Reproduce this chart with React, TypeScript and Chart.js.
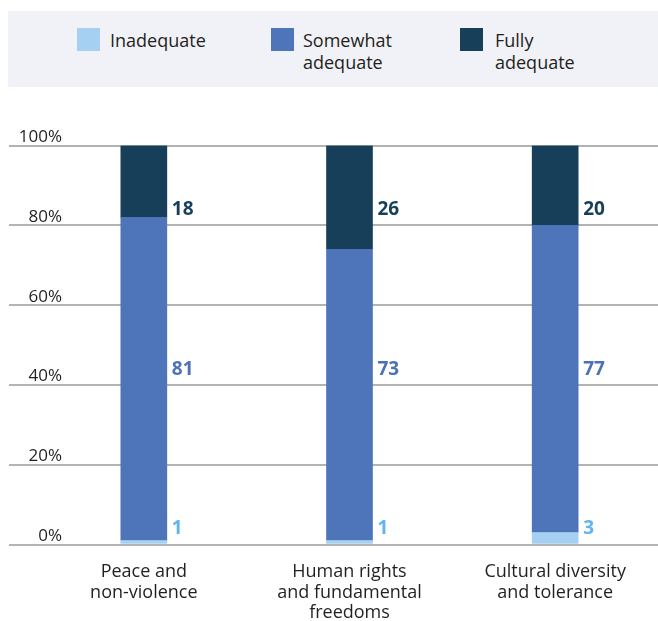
import React, { useEffect, useRef } from "react";
import { Chart, registerables } from "chart.js";

Chart.register(...registerables);

const categories: string[][] = [
  ["Peace and", "non-violence"],
  ["Human rights", "and fundamental", "freedoms"],
  ["Cultural diversity", "and tolerance"],
];
const seriesNames = ["Inadequate", "Somewhat adequate", "Fully adequate"];
const legendLines: string[][] = [["Inadequate"], ["Somewhat", "adequate"], ["Fully", "adequate"]];
const inadequate = [1, 1, 3];
const somewhat = [81, 73, 77];
const fully = [18, 26, 20];
// value level (in %) at which each series' data labels sit
const labelLevels = [4.1, 43.8, 84];

const barColors = ["#a5d0f1", "#4e74b9", "#183f59"];
const labelColors = ["#62b4ee", "#4b72b8", "#173f5a"];
const textColor = "#231f20";
const FONT = "'Open Sans', 'Noto Sans', sans-serif";

const valueLabelPlugin = {
  id: "valueLabels",
  afterDatasetsDraw(chart: any) {
    const ctx = chart.ctx;
    const y = chart.scales.y;
    ctx.save();
    ctx.font = `bold 19px ${FONT}`;
    ctx.textAlign = "left";
    ctx.textBaseline = "middle";
    chart.data.datasets.forEach((ds: any, i: number) => {
      const meta = chart.getDatasetMeta(i);
      ctx.fillStyle = labelColors[i];
      meta.data.forEach((bar: any, j: number) => {
        const px = bar.x + bar.width / 2 + 5;
        const py = y.getPixelForValue(labelLevels[i]);
        ctx.fillText(String(ds.data[j]), px, py);
      });
    });
    ctx.restore();
  },
};

const yTickLabelPlugin = {
  id: "yTickLabels",
  afterDraw(chart: any) {
    const ctx = chart.ctx;
    const y = chart.scales.y;
    ctx.save();
    ctx.font = `17px ${FONT}`;
    ctx.textAlign = "right";
    ctx.textBaseline = "alphabetic";
    ctx.fillStyle = textColor;
    y.ticks.forEach((t: any) => {
      const py = y.getPixelForValue(t.value);
      ctx.fillText(`${t.value}%`, 62, py - 3.5);
    });
    ctx.restore();
  },
};

export default function App() {
  const ref = useRef<HTMLCanvasElement>(null);
  useEffect(() => {
    if (!ref.current) return;
    const chart = new Chart(ref.current, {
      type: "bar",
      data: {
        labels: categories,
        datasets: [
          { label: seriesNames[0], data: inadequate, backgroundColor: barColors[0] },
          { label: seriesNames[1], data: somewhat, backgroundColor: barColors[1] },
          { label: seriesNames[2], data: fully, backgroundColor: barColors[2] },
        ].map((d) => ({ ...d, barThickness: 46, borderWidth: 0 })),
      },
      options: {
        responsive: false,
        animation: false,
        events: [],
        layout: { padding: { left: 9, right: 0, top: 145.5, bottom: 0 } },
        plugins: { legend: { display: false }, tooltip: { enabled: false } },
        scales: {
          x: {
            stacked: true,
            grid: { display: false, drawTicks: false },
            border: { display: false },
            ticks: {
              color: textColor,
              font: { family: FONT, size: 18, lineHeight: 1.15 },
              padding: 17,
              maxRotation: 0,
              autoSkip: false,
            },
            afterFit(scale: any) {
              scale.height = 76.5;
            },
          },
          y: {
            stacked: true,
            min: 0,
            max: 100,
            ticks: { stepSize: 20, display: false },
            grid: { color: "#b3b3b3", lineWidth: 2, drawTicks: true, tickLength: 32 },
            border: { display: false },
            afterFit(scale: any) {
              scale.width = 32;
            },
          },
        },
      },
      plugins: [valueLabelPlugin, yTickLabelPlugin],
    });
    return () => chart.destroy();
  }, []);

  const squareX = [77, 271, 460];
  const textX = [110, 303, 495];

  return (
    <div style={{ position: "fixed", left: 0, top: 0, width: 658, height: 621, background: "#fff" }}>
      <div
        style={{
          position: "absolute",
          left: 8,
          top: 11,
          width: 650,
          height: 76,
          background: "#f1f2f7",
        }}
      />
      {legendLines.map((lines, i) => (
        <React.Fragment key={i}>
          <div
            style={{
              position: "absolute",
              left: squareX[i],
              top: 28,
              width: 23,
              height: 23,
              background: barColors[i],
            }}
          />
          <div
            style={{
              position: "absolute",
              left: textX[i],
              top: 29,
              fontFamily: FONT,
              fontSize: 18,
              lineHeight: "22px",
              color: textColor,
              whiteSpace: "nowrap",
            }}
          >
            {lines.map((l, k) => (
              <div key={k}>{l}</div>
            ))}
          </div>
        </React.Fragment>
      ))}
      <canvas ref={ref} width={658} height={621} style={{ position: "absolute", left: 0, top: 0 }} />
    </div>
  );
}
